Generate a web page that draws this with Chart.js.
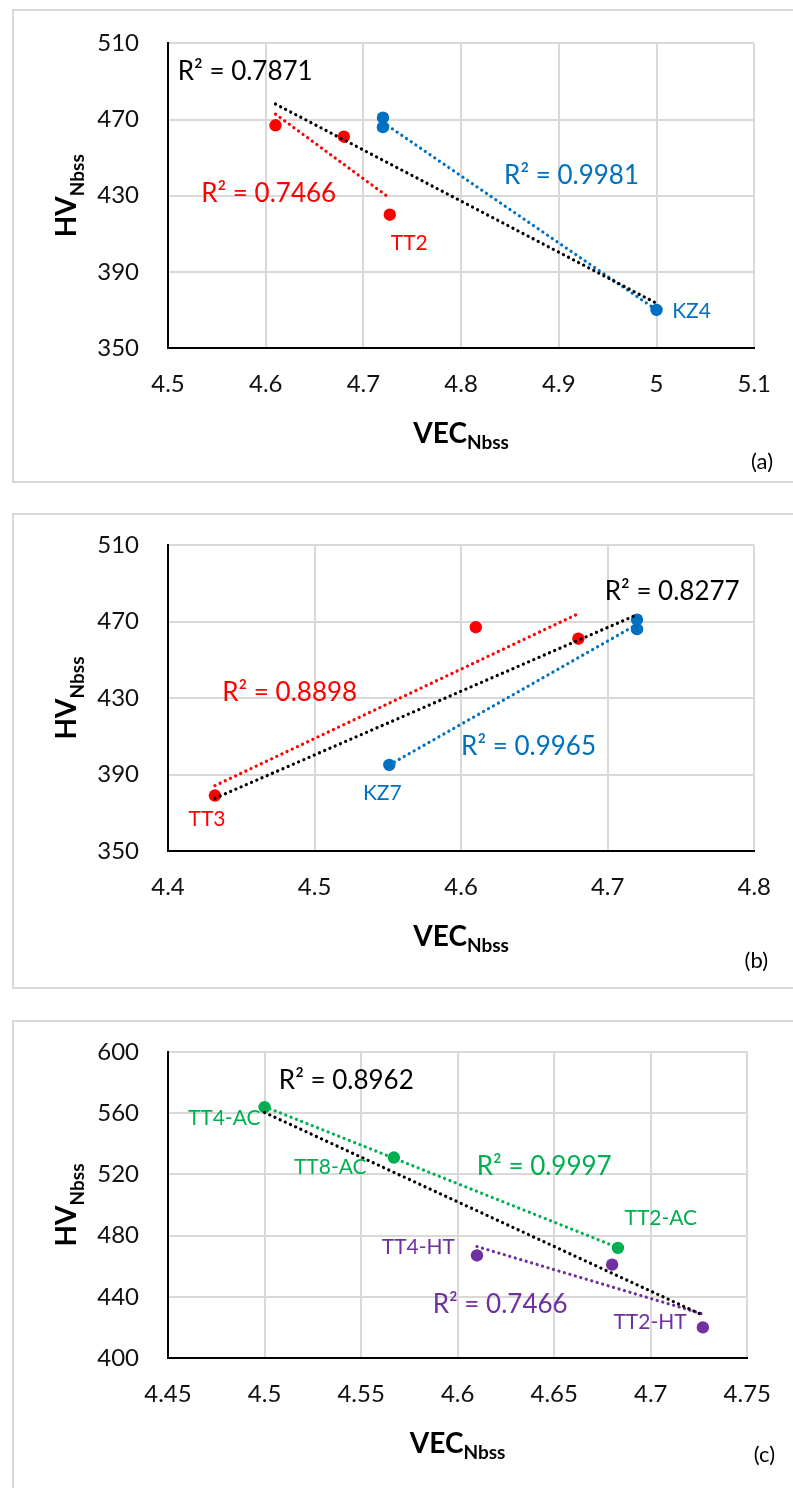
<!DOCTYPE html>
<html>
<head>
<meta charset="utf-8">
<title>HV vs VEC</title>
<script src="https://cdn.jsdelivr.net/npm/chart.js@4.4.1/dist/chart.umd.min.js"></script>
<style>
    body { margin: 0; background: #fff; width: 793px; height: 1488px; position: relative; overflow: hidden; }
    .frame { position: absolute; left: 12px; width: 820px; border: 2px solid #d9d9d9; box-sizing: border-box; }
    canvas { position: absolute; left: 0; }
</style>
</head>
<body>
<div class="frame" style="top:9px;height:474px"></div>
<div class="frame" style="top:513px;height:476px"></div>
<div class="frame" style="top:1020px;height:500px"></div>
<canvas id="chart-a" width="793" height="490" style="top:0"></canvas>
<canvas id="chart-b" width="793" height="500" style="top:490px"></canvas>
<canvas id="chart-c" width="793" height="498" style="top:990px"></canvas>
<script>
(function () {
    'use strict';

    // Panel (a): TT alloys (red) and KZ alloys (blue)
    const vecTT_a = [4.61, 4.68, 4.727];
    const hvTT_a = [467, 461, 420];
    const vecKZ_a = [4.72, 4.72, 5.0];
    const hvKZ_a = [471, 466, 370];
    const xTicks_a = [4.5, 4.6, 4.7, 4.8, 4.9, 5, 5.1];
    const yTicks_a = [350, 390, 430, 470, 510];

    // Panel (b)
    const vecTT_b = [4.432, 4.61, 4.68];
    const hvTT_b = [379, 467, 461];
    const vecKZ_b = [4.551, 4.72, 4.72];
    const hvKZ_b = [395, 471, 466];
    const xTicks_b = [4.4, 4.5, 4.6, 4.7, 4.8];
    const yTicks_b = [350, 390, 430, 470, 510];

    // Panel (c): as-cast (green) and heat treated (purple)
    const vecAC_c = [4.5, 4.567, 4.683];
    const hvAC_c = [564, 531, 472];
    const vecHT_c = [4.61, 4.68, 4.727];
    const hvHT_c = [467, 461, 420];
    const xTicks_c = [4.45, 4.5, 4.55, 4.6, 4.65, 4.7, 4.75];
    const yTicks_c = [400, 440, 480, 520, 560, 600];

    const RED = '#ff0000';
    const BLUE = '#0070c0';
    const GREEN = '#00b050';
    const PURPLE = '#7030a0';
    const BLACK = '#000000';
    const FONT = 'Lato, "Open Sans", sans-serif';

    /**
     * Least squares trendline spanning the x range of the series
     */
    function trendPoints(xs, ys) {
        const n = xs.length;
        const mx = xs.reduce((a, b) => a + b, 0) / n;
        const my = ys.reduce((a, b) => a + b, 0) / n;
        let sxy = 0, sxx = 0;
        xs.forEach((x, i) => {
            sxy += (x - mx) * (ys[i] - my);
            sxx += (x - mx) * (x - mx);
        });
        const slope = sxy / sxx;
        const x0 = Math.min(...xs), x1 = Math.max(...xs);
        return [
            { x: x0, y: my + slope * (x0 - mx) },
            { x: x1, y: my + slope * (x1 - mx) }
        ];
    }

    function toPoints(xs, ys) {
        return xs.map((x, i) => ({ x: x, y: ys[i] }));
    }

    // Text drawn on top: R² notes, point names, axis titles with subscripts
    const notesPlugin = {
        id: 'notes',
        afterDatasetsDraw(chart, args, opts) {
            const ctx = chart.ctx;
            const xs = chart.scales.x, ys = chart.scales.y;
            const area = chart.chartArea;
            ctx.save();
            ctx.textBaseline = 'middle';
            ctx.textAlign = 'left';
            opts.notes.forEach(n => {
                ctx.font = n.size + 'px ' + FONT;
                ctx.fillStyle = n.color;
                ctx.fillText(n.text, xs.getPixelForValue(n.x), ys.getPixelForValue(n.y));
            });

            // x title
            ctx.textBaseline = 'alphabetic';
            ctx.fillStyle = BLACK;
            const main = 'bold 28px ' + FONT, sub = 'bold 19px ' + FONT;
            ctx.font = main;
            const wVec = ctx.measureText('VEC').width;
            ctx.font = sub;
            const wSub = ctx.measureText('Nbss').width;
            let x0 = (area.left + area.right) / 2 - (wVec + wSub) / 2;
            const yb = area.bottom + opts.xTitleGap;
            ctx.font = main;
            ctx.fillText('VEC', x0, yb);
            ctx.font = sub;
            ctx.fillText('Nbss', x0 + wVec, yb + 6);

            // y title, rotated
            ctx.save();
            ctx.translate(area.left - 92, (area.top + area.bottom) / 2);
            ctx.rotate(-Math.PI / 2);
            ctx.font = main;
            const wHv = ctx.measureText('HV').width;
            ctx.font = sub;
            const wSubY = ctx.measureText('Nbss').width;
            const s0 = -(wHv + wSubY) / 2;
            ctx.font = main;
            ctx.fillText('HV', s0, 0);
            ctx.font = sub;
            ctx.fillText('Nbss', s0 + wHv, 8);
            ctx.restore();

            // panel tag
            ctx.font = '22px ' + FONT;
            ctx.textAlign = 'right';
            ctx.textBaseline = 'middle';
            ctx.fillText(opts.tag, opts.tagPos[0], opts.tagPos[1]);
            ctx.restore();
        }
    };

    function buildPanel(id, p) {
        const canvas = document.getElementById(id);
        const W = canvas.width, H = canvas.height;
        const datasets = [];

        p.trends.forEach(t => {
            datasets.push({
                type: 'line',
                data: trendPoints(t.xs, t.ys),
                borderColor: t.color,
                borderWidth: 3.2,
                borderDash: [0.1, 5.6],
                borderCapStyle: 'round',
                pointRadius: 0,
                fill: false,
                order: 0
            });
        });
        p.series.forEach(s => {
            datasets.push({
                type: 'scatter',
                data: toPoints(s.xs, s.ys),
                backgroundColor: s.color,
                borderColor: s.color,
                borderWidth: 0,
                pointRadius: 6.2,
                order: 1
            });
        });

        const tickFont = { family: FONT, size: 24 };
        const grid = { color: '#d9d9d9', lineWidth: 2, drawTicks: false };
        const border = { color: BLACK, width: 2 };

        new Chart(canvas, {
            type: 'scatter',
            data: { datasets: datasets },
            options: {
                responsive: false,
                animation: false,
                events: [],
                layout: { padding: { left: 0, top: p.area.top, right: W - p.area.right, bottom: 0 } },
                plugins: {
                    legend: { display: false },
                    tooltip: { enabled: false },
                    notes: { notes: p.notes, tag: p.tag, tagPos: p.tagPos, xTitleGap: 95 }
                },
                scales: {
                    x: {
                        type: 'linear',
                        min: p.xTicks[0],
                        max: p.xTicks[p.xTicks.length - 1],
                        afterBuildTicks: s => { s.ticks = p.xTicks.map(v => ({ value: v })); },
                        afterFit: s => { s.height = H - p.area.bottom; },
                        grid: grid,
                        border: border,
                        ticks: { font: tickFont, color: '#111', padding: 22, maxRotation: 0, autoSkip: false, callback: v => String(v) }
                    },
                    y: {
                        type: 'linear',
                        min: p.yTicks[0],
                        max: p.yTicks[p.yTicks.length - 1],
                        afterBuildTicks: s => { s.ticks = p.yTicks.map(v => ({ value: v })); },
                        afterFit: s => { s.width = p.area.left; },
                        grid: grid,
                        border: border,
                        ticks: { font: tickFont, color: '#111', padding: 29, autoSkip: false, callback: v => String(v) }
                    }
                }
            },
            plugins: [notesPlugin]
        });
    }

    buildPanel('chart-a', {
        area: { left: 168, top: 42, right: 757, bottom: 348 },
        xTicks: xTicks_a,
        yTicks: yTicks_a,
        series: [
            { xs: vecTT_a, ys: hvTT_a, color: RED },
            { xs: vecKZ_a, ys: hvKZ_a, color: BLUE }
        ],
        trends: [
            { xs: vecTT_a.concat(vecKZ_a), ys: hvTT_a.concat(hvKZ_a), color: BLACK },
            { xs: vecTT_a, ys: hvTT_a, color: RED },
            { xs: vecKZ_a, ys: hvKZ_a, color: BLUE }
        ],
        notes: [
            { text: 'R² = 0.7871', x: 4.51, y: 495, color: BLACK, size: 26 },
            { text: 'R² = 0.7466', x: 4.534, y: 431, color: RED, size: 26 },
            { text: 'TT2', x: 4.728, y: 405, color: RED, size: 21 },
            { text: 'R² = 0.9981', x: 4.844, y: 440.5, color: BLUE, size: 26 },
            { text: 'KZ4', x: 5.016, y: 369.5, color: BLUE, size: 21 }
        ],
        tag: '(a)',
        tagPos: [773, 462]
    });

    buildPanel('chart-b', {
        area: { left: 168, top: 55, right: 755, bottom: 361 },
        xTicks: xTicks_b,
        yTicks: yTicks_b,
        series: [
            { xs: vecTT_b, ys: hvTT_b, color: RED },
            { xs: vecKZ_b, ys: hvKZ_b, color: BLUE }
        ],
        trends: [
            { xs: vecTT_b.concat(vecKZ_b), ys: hvTT_b.concat(hvKZ_b), color: BLACK },
            { xs: vecTT_b, ys: hvTT_b, color: RED },
            { xs: vecKZ_b, ys: hvKZ_b, color: BLUE }
        ],
        notes: [
            { text: 'R² = 0.8277', x: 4.698, y: 485.4, color: BLACK, size: 26 },
            { text: 'R² = 0.8898', x: 4.437, y: 432.6, color: RED, size: 26 },
            { text: 'R² = 0.9965', x: 4.6, y: 404.4, color: BLUE, size: 26 },
            { text: 'KZ7', x: 4.533, y: 380.3, color: BLUE, size: 21 },
            { text: 'TT3', x: 4.414, y: 366.7, color: RED, size: 21 }
        ],
        tag: '(b)',
        tagPos: [768, 471]
    });

    buildPanel('chart-c', {
        area: { left: 168, top: 62, right: 748, bottom: 368 },
        xTicks: xTicks_c,
        yTicks: yTicks_c,
        series: [
            { xs: vecAC_c, ys: hvAC_c, color: GREEN },
            { xs: vecHT_c, ys: hvHT_c, color: PURPLE }
        ],
        trends: [
            { xs: vecAC_c.concat(vecHT_c), ys: hvAC_c.concat(hvHT_c), color: BLACK },
            { xs: vecAC_c, ys: hvAC_c, color: GREEN },
            { xs: vecHT_c, ys: hvHT_c, color: PURPLE }
        ],
        notes: [
            { text: 'R² = 0.8962', x: 4.5074, y: 581, color: BLACK, size: 26 },
            { text: 'TT4-AC', x: 4.4603, y: 556.9, color: GREEN, size: 21 },
            { text: 'TT8-AC', x: 4.5152, y: 524.8, color: GREEN, size: 21 },
            { text: 'R² = 0.9997', x: 4.6099, y: 524.8, color: GREEN, size: 26 },
            { text: 'TT2-AC', x: 4.6864, y: 491.5, color: GREEN, size: 21 },
            { text: 'TT4-HT', x: 4.5607, y: 472.5, color: PURPLE, size: 21 },
            { text: 'R² = 0.7466', x: 4.5871, y: 434.6, color: PURPLE, size: 26 },
            { text: 'TT2-HT', x: 4.6807, y: 423.5, color: PURPLE, size: 21 }
        ],
        tag: '(c)',
        tagPos: [775, 465]
    });
})();
</script>
</body>
</html>
